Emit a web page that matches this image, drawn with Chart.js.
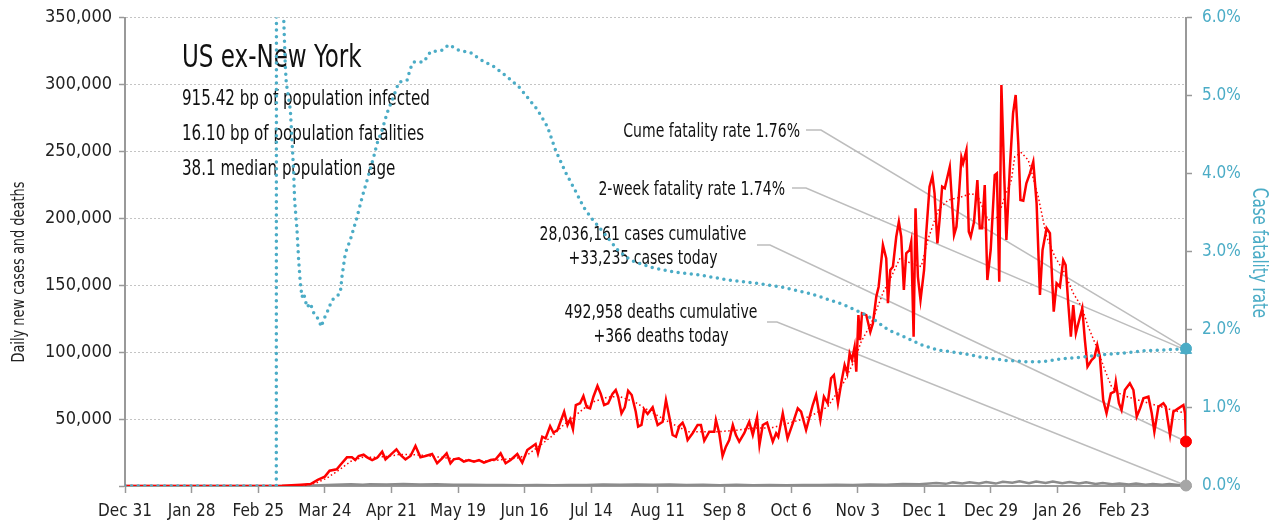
<!DOCTYPE html>
<html>
<head>
<meta charset="utf-8">
<script src="https://cdn.jsdelivr.net/npm/chart.js@4.4.1/dist/chart.umd.min.js"></script>
<style>
  html, body { margin: 0; padding: 0; background: #fff; }
  #wrap { width: 1273px; height: 527px; position: relative; }
</style>
</head>
<body>
<div id="wrap"><canvas id="usChart"></canvas></div>
<script>
// x values are days counted from Dec 31, 2019
var tickLabels = ['Dec 31', 'Jan 28', 'Feb 25', 'Mar 24', 'Apr 21', 'May 19', 'Jun 16', 'Jul 14',
    'Aug 11', 'Sep 8', 'Oct 6', 'Nov 3', 'Dec 1', 'Dec 29', 'Jan 26', 'Feb 23'];

// daily new cases
var caseDays = [0, 62, 66, 70, 74, 78, 81, 84, 86, 89,
    90.5, 93.3, 95.4, 96.8, 98.2, 100.3, 101.8, 103.9, 106, 108.1,
    109.5, 111.6, 114.1, 115.8, 117.9, 120, 122.1, 124.2, 126.3, 129.1,
    131.2, 133.3, 135.2, 136.8, 138.2, 140.3, 142.4, 144.5, 146.7, 148.8,
    150.9, 153.7, 155.8, 157.9, 160, 162.1, 164.9, 167, 169.1, 172.6,
    173.6, 175.4, 176.8, 178.7, 180.1, 181.8, 184.6, 186, 187.1, 188.3,
    189.5, 191.3, 192.7, 194.1, 195.5, 196.9, 198.6, 200, 201.4, 203.1,
    204.9, 206.3, 207.3, 208.7, 210.1, 211.5, 213, 214.7, 215.7, 217.1,
    218.2, 219.7, 221.8, 223.9, 226, 227.4, 228.8, 230.2, 231.6, 233,
    234.4, 235.4, 236.5, 238.6, 240.7, 242.1, 243.5, 245.6, 247.7, 248.4,
    249.8, 251.2, 252.6, 254, 255.5, 256.8, 258.2, 260.3, 262.4, 263.9,
    265.7, 266.7, 268.1, 269.9, 272.3, 273.7, 274.6, 276.5, 278.5, 280.7,
    282.8, 284.2, 286.3, 289.1, 290.5, 292.3, 293.8, 295.4, 296.8, 298,
    299.7, 301.3, 302.5, 303.6, 304.6, 305.6, 306.7, 307.4, 308.3, 309,
    309.8, 311.6, 313.3, 314.4, 315.8, 316.8, 318.6, 320, 320.7, 321.7,
    322.8, 324.2, 325.3, 326.3, 327.4, 328.4, 329.8, 330.5, 331.5, 332.3,
    333.3, 334.4, 335.9, 336.8, 338.2, 339.4, 340.3, 341.5, 342.4, 343.5,
    344.6, 346.7, 348.5, 349.5, 350.4, 351.6, 352.3, 353.7, 354.7, 355.5,
    356.9, 358.3, 359.3, 360.3, 361.4, 362.5, 363.9, 365.6, 366.5, 367.5,
    368.4, 369.6, 370.5, 371.9, 373.3, 374.4, 375.5, 376.4, 377.6, 378.9,
    380.4, 381.8, 383.2, 384.6, 385.7, 387.4, 388.8, 390.4, 391.6, 393,
    394.4, 395.4, 396.5, 397.6, 398.6, 399.7, 401.1, 402.4, 403.5, 404.6,
    406.3, 407.5, 408.7, 409.8, 411.2, 412.6, 414.4, 415.9, 416.5, 417.8,
    418.9, 420.3, 422.4, 423.9, 425.3, 426.7, 428.1, 430.2, 431.6, 432.7,
    434.4, 436.5, 437.5, 439.3, 440.7, 442.8, 444.9, 445.6, 446];
var caseCounts = [0, 0, 100, 500, 1000, 1500, 4500, 7000, 11400, 12500,
    15700, 21400, 21400, 19400, 22400, 23400, 21400, 19400, 21100, 25600,
    19900, 23200, 27400, 23200, 19900, 22400, 29900, 21400, 22400, 23900,
    17000, 20700, 24400, 17000, 19900, 20700, 18200, 19400, 18200, 19400,
    17400, 19400, 19900, 24400, 17000, 19400, 23900, 17400, 26900, 31400,
    24400, 36800, 35600, 44800, 39800, 41800, 55500, 45600, 49800, 42400,
    60500, 61800, 67200, 58800, 58000, 66700, 74700, 68700, 60500, 61800,
    68700, 71700, 66700, 54300, 58800, 71200, 68000, 55500, 44300, 45600,
    57300, 53800, 58800, 45600, 48000, 64200, 51800, 38100, 36800, 44800,
    47300, 43100, 34400, 39400, 45600, 45600, 33800, 40600, 40600, 49300,
    39400, 22400, 29400, 34400, 45600, 38100, 33100, 39400, 48000, 38100,
    51300, 30600, 45600, 47300, 33100, 39400, 36800, 54300, 35600, 46800,
    58000, 55500, 41800, 60500, 68000, 49300, 66700, 61800, 80500, 82900,
    61800, 79200, 90400, 84200, 99100, 94100, 104000, 85400, 127700, 109000,
    129000, 127700, 115000, 121500, 141400, 148900, 180000, 170000, 136500, 161400,
    163800, 186200, 197400, 186200, 146400, 173800, 176300, 182500, 111500, 207400,
    156300, 138900, 161400, 188800, 223600, 231600, 218600, 181300, 198700, 223600,
    222400, 238500, 187500, 193700, 213600, 245500, 241000, 251000, 190000, 186200,
    197400, 228600, 192500, 192500, 224800, 153900, 176300, 232300, 233600, 152600,
    299500, 231100, 183800, 236000, 278400, 292100, 256000, 213600, 213100, 226100,
    233600, 242300, 211200, 142700, 176300, 192500, 188800, 130200, 151400, 148900,
    168800, 165100, 136500, 111500, 135200, 114100, 124000, 132700, 109000, 89100,
    94100, 96100, 105300, 96600, 64200, 54300, 69200, 70400, 77900, 61800,
    56800, 71700, 76700, 71700, 51800, 58000, 65500, 66700, 54300, 40600,
    59200, 61800, 59200, 38100, 55500, 58000, 60500, 54300, 33235];

// 7-day average of new cases
var avgDays = [0, 70, 75, 80, 85, 90, 95, 100, 105, 110,
    115, 120, 125, 130, 135, 140, 145, 150, 155, 160,
    165, 169, 175, 180, 184, 188.7, 193, 197, 203, 208,
    214, 222, 229.5, 236.6, 243, 250, 257.5, 264.5, 271.5, 278.6,
    285, 290, 295.4, 302, 306.7, 309.5, 313.7, 319, 320.7, 326,
    330.5, 334.7, 337.5, 341.8, 346, 351.6, 355.8, 358.6, 362.8, 367,
    369.8, 372.6, 374, 376.8, 379.7, 383.9, 387.4, 390.9, 395.1, 398.6,
    402.1, 404.9, 408.4, 411.9, 414.7, 418.9, 425.9, 433, 440, 446];
var avgCounts = [0, 0, 300, 2000, 6000, 12000, 18500, 21500, 21500, 22000,
    23500, 23500, 23000, 22000, 21000, 20000, 19000, 18500, 19000, 20000,
    21000, 23000, 31000, 38000, 45000, 51800, 58000, 63000, 66500, 66700,
    63000, 54500, 47000, 40600, 40600, 40600, 41800, 43300, 43300, 46800,
    50000, 54000, 59200, 77000, 94000, 108000, 121500, 146000, 151000, 171000,
    166000, 164000, 184000, 206000, 213600, 216000, 218600, 216000, 198700, 201000,
    216000, 228600, 246000, 249000, 243500, 216000, 186200, 171300, 158900, 144000,
    134000, 119000, 104000, 86700, 74200, 68000, 64200, 60500, 56800, 54300];

// daily deaths
var deathDays = [0, 65, 75, 82, 88, 95, 100, 103, 110, 117,
    124, 131, 138, 145, 152, 159, 166, 173, 180, 187,
    194, 201, 208, 215, 222, 229, 236, 243, 250, 257,
    264, 271, 278, 285, 292, 299, 306, 313, 320, 327,
    334, 341, 345, 348, 352, 355, 359, 362, 366, 369,
    373, 376, 380, 383, 387, 390, 394, 397, 401, 404,
    408, 411, 415, 418, 422, 425, 429, 432, 436, 439,
    443, 446];
var deathCounts = [0, 0, 100, 500, 900, 1300, 1000, 1400, 1200, 1500,
    1100, 1300, 900, 1000, 700, 800, 600, 700, 500, 800,
    700, 1100, 900, 1200, 900, 1100, 800, 900, 600, 900,
    600, 800, 600, 800, 700, 900, 800, 1100, 1000, 1500,
    1300, 2200, 1600, 2700, 1800, 2800, 1900, 2900, 1800, 3200,
    2400, 3500, 2000, 3400, 2200, 3300, 2100, 3000, 1800, 2700,
    1500, 2300, 1300, 1900, 1100, 1800, 1000, 1500, 900, 1400,
    800, 366];

// cumulative case fatality rate, percent
var cfrDays = [0, 63.6, 64, 65.5, 66.7, 67.4, 67.8, 69.5, 70.2, 70.9,
    71.3, 72.3, 73, 73.7, 74.4, 75.1, 76.5, 77.9, 79.3, 81.4,
    82.5, 83.5, 84.9, 87, 90.5, 91.2, 92.6, 94.7, 97.6, 99.7,
    101.8, 104.5, 106, 108.1, 110.2, 112.3, 115.1, 118.6, 120, 121.4,
    125.6, 128.4, 133.3, 136.1, 140.3, 145.3, 149.5, 155.1, 160.7, 165.6,
    169.1, 173.3, 177.6, 181, 185.3, 189.5, 192.8, 196.6, 201.3, 207.2,
    212.6, 221.1, 230.7, 242.1, 253.5, 264.4, 275.8, 281.3, 287.2, 292.6,
    302.3, 309.5, 314.9, 320.8, 327.6, 334.7, 341.9, 351.6, 360, 369.7,
    379.8, 385.3, 393.7, 402.1, 410.5, 418.9, 427.4, 435.8, 446];
var cfrRates = [0, 0, 40, 12, 6.0, 5.37, 5.16, 4.82, 4.43, 4.01,
    3.66, 3.28, 2.89, 2.60, 2.42, 2.47, 2.29, 2.34, 2.22, 2.13,
    2.04, 2.13, 2.22, 2.38, 2.47, 2.68, 2.98, 3.15, 3.45, 3.70,
    3.92, 4.21, 4.39, 4.56, 4.78, 4.94, 5.17, 5.20, 5.35, 5.43,
    5.43, 5.56, 5.58, 5.65, 5.58, 5.55, 5.46, 5.37, 5.24, 5.11,
    4.98, 4.82, 4.60, 4.30, 4.01, 3.77, 3.57, 3.41, 3.24, 3.02,
    2.89, 2.80, 2.74, 2.70, 2.64, 2.60, 2.55, 2.51, 2.47, 2.42,
    2.32, 2.22, 2.13, 2.00, 1.91, 1.81, 1.74, 1.70, 1.65, 1.61,
    1.59, 1.59, 1.63, 1.65, 1.68, 1.70, 1.73, 1.74, 1.76];

var regionName = 'US ex-New York';
var infectedBp = '915.42', fatalBp = '16.10', medianAge = '38.1';
var lastDay = 446;
var totalCases = 28036161, casesToday = 33235;
var totalDeaths = 492958, deathsToday = 366;
var cumeRate = 1.76, twoWeekRate = 1.74;

var FONT = "'DejaVu Sans Condensed', 'DejaVu Sans', sans-serif";
var SQUEEZE = 0.8;   // the original uses a narrow face
var TEAL = '#4bacc6';
var RED = '#ff0000';

function toPoints(xs, ys) {
    return xs.map(function (x, i) { return { x: x, y: ys[i] }; });
}
function fmt(n) {
    return n.toLocaleString('en-US');
}
function narrowText(ctx, text, x, y, align) {
    ctx.save();
    ctx.translate(x, y);
    ctx.scale(SQUEEZE, 1);
    ctx.textAlign = align;
    ctx.fillText(text, 0, 0);
    ctx.restore();
}
function noEdgePadding(scale) {
    scale.paddingTop = 0;
    scale.paddingBottom = 0;
    scale.paddingLeft = 0;
    scale.paddingRight = 0;
}

var notesPlugin = {
    id: 'notes',
    beforeDatasetsDraw: function (chart) {
        var ctx = chart.ctx;
        var xs = chart.scales.x, ys = chart.scales.y, ys2 = chart.scales.y2;
        ctx.save();

        // leader lines from the labels to the last values
        var ex = xs.getPixelForValue(lastDay);
        ctx.strokeStyle = '#bdbdbd';
        ctx.lineWidth = 1.5;
        function leader(x0, y0, x1, px, py) {
            ctx.beginPath();
            ctx.moveTo(x0, y0);
            ctx.lineTo(x1, y0);
            ctx.lineTo(px, py);
            ctx.stroke();
        }
        leader(806, 130, 821, ex, ys2.getPixelForValue(cumeRate));
        leader(792, 188, 806, ex, ys2.getPixelForValue(twoWeekRate));
        leader(757, 245, 770, ex, ys.getPixelForValue(casesToday));
        leader(767, 322, 777, ex, ys.getPixelForValue(deathsToday));

        // headline block
        ctx.fillStyle = '#111';
        ctx.textBaseline = 'alphabetic';
        ctx.font = '32px ' + FONT;
        narrowText(ctx, regionName, 182, 67, 'left');
        ctx.font = '21px ' + FONT;
        narrowText(ctx, infectedBp + ' bp of population infected', 182, 105, 'left');
        narrowText(ctx, fatalBp + ' bp of population fatalities', 182, 140, 'left');
        narrowText(ctx, medianAge + ' median population age', 182, 175, 'left');

        // annotations
        ctx.font = '19.5px ' + FONT;
        narrowText(ctx, 'Cume fatality rate ' + cumeRate.toFixed(2) + '%', 800, 137, 'right');
        narrowText(ctx, '2-week fatality rate ' + twoWeekRate.toFixed(2) + '%', 785, 195, 'right');
        narrowText(ctx, fmt(totalCases) + ' cases cumulative', 643, 240, 'center');
        narrowText(ctx, '+' + fmt(casesToday) + ' cases today', 643, 264, 'center');
        narrowText(ctx, fmt(totalDeaths) + ' deaths cumulative', 661, 318, 'center');
        narrowText(ctx, '+' + fmt(deathsToday) + ' deaths today', 661, 342, 'center');

        // axis titles
        ctx.textBaseline = 'middle';
        ctx.save();
        ctx.translate(19, 272);
        ctx.rotate(-Math.PI / 2);
        ctx.fillStyle = '#222';
        ctx.font = '18px ' + FONT;
        narrowText(ctx, 'Daily new cases and deaths', 0, 0, 'center');
        ctx.restore();
        ctx.save();
        ctx.translate(1258, 253);
        ctx.rotate(Math.PI / 2);
        ctx.fillStyle = TEAL;
        ctx.font = '21px ' + FONT;
        narrowText(ctx, 'Case fatality rate', 0, 0, 'center');
        ctx.restore();

        ctx.restore();
    }
};

document.addEventListener('DOMContentLoaded', function () {
    var el = document.getElementById('usChart');
    var ctx = el.getContext('2d');

    new Chart(ctx, {
        type: 'line',
        data: {
            datasets: [{
                label: 'Case fatality rate',
                data: toPoints(cfrDays, cfrRates),
                yAxisID: 'y2',
                borderColor: TEAL,
                borderWidth: 3.5,
                borderDash: [0, 6.6],
                borderCapStyle: 'round',
                pointRadius: 0,
                order: 1
            }, {
                label: '7-day average',
                data: toPoints(avgDays, avgCounts),
                yAxisID: 'y',
                borderColor: RED,
                borderWidth: 1.5,
                borderDash: [1.5, 2.5],
                pointRadius: 0,
                order: 2
            }, {
                label: 'Daily new cases',
                data: toPoints(caseDays, caseCounts),
                yAxisID: 'y',
                borderColor: RED,
                borderWidth: 2.5,
                pointRadius: 0,
                order: 3
            }, {
                label: 'Daily deaths',
                data: toPoints(deathDays, deathCounts),
                yAxisID: 'y',
                borderColor: '#8c8c8c',
                borderWidth: 2.5,
                pointRadius: 0,
                order: 4
            }, {
                label: 'Cases today',
                data: [{ x: lastDay, y: casesToday }],
                yAxisID: 'y',
                showLine: false,
                pointRadius: 5.5,
                pointBackgroundColor: RED,
                pointBorderColor: RED,
                clip: false,
                order: 0
            }, {
                label: 'Deaths today',
                data: [{ x: lastDay, y: deathsToday }],
                yAxisID: 'y',
                showLine: false,
                pointRadius: 5.5,
                pointBackgroundColor: '#a6a6a6',
                pointBorderColor: '#a6a6a6',
                clip: false,
                order: 0
            }, {
                label: 'Cume fatality rate',
                data: [{ x: lastDay, y: cumeRate }],
                yAxisID: 'y2',
                showLine: false,
                pointRadius: 5.5,
                pointBackgroundColor: TEAL,
                pointBorderColor: TEAL,
                clip: false,
                order: 0
            }, {
                label: '2-week fatality rate',
                data: [{ x: lastDay, y: twoWeekRate }],
                yAxisID: 'y2',
                showLine: false,
                pointStyle: 'triangle',
                pointRadius: 6.5,
                pointBackgroundColor: TEAL,
                pointBorderColor: TEAL,
                clip: false,
                order: 0
            }]
        },
        options: {
            responsive: true,
            maintainAspectRatio: false,
            animation: false,
            events: [],
            layout: { padding: { top: 17.5, left: 0, right: 0, bottom: 0 } },
            plugins: {
                legend: { display: false },
                tooltip: { enabled: false }
            },
            scales: {
                x: {
                    type: 'linear',
                    min: 0,
                    max: lastDay,
                    afterFit: function (scale) {
                        scale.height = 41;
                        noEdgePadding(scale);
                    },
                    ticks: {
                        stepSize: 28,
                        includeBounds: false,
                        autoSkip: false,
                        maxRotation: 0,
                        padding: 8,
                        color: '#222',
                        font: { family: FONT, size: 17 },
                        callback: function (value) {
                            return value % 28 === 0 ? (tickLabels[value / 28] || '') : '';
                        }
                    },
                    grid: {
                        drawOnChartArea: false,
                        tickLength: 7,
                        tickWidth: 1.5,
                        tickColor: '#999'
                    },
                    border: { color: '#999', width: 2 }
                },
                y: {
                    position: 'left',
                    min: 0,
                    max: 350000,
                    afterFit: function (scale) {
                        scale.width = 125;
                        noEdgePadding(scale);
                    },
                    ticks: {
                        stepSize: 50000,
                        padding: 7,
                        color: '#222',
                        font: { family: FONT, size: 18 },
                        callback: function (value) {
                            return value === 0 ? '' : fmt(value);
                        }
                    },
                    grid: {
                        color: '#c4c4c4',
                        lineWidth: 1,
                        tickLength: 6,
                        tickWidth: 1.5,
                        tickColor: '#999'
                    },
                    border: { color: '#999', width: 2, dash: [2, 2] }
                },
                y2: {
                    position: 'right',
                    min: 0,
                    max: 6,
                    afterFit: function (scale) {
                        scale.width = 87;
                        noEdgePadding(scale);
                    },
                    ticks: {
                        stepSize: 1,
                        padding: 10,
                        color: TEAL,
                        font: { family: FONT, size: 17 },
                        callback: function (value) { return value.toFixed(1) + '%'; }
                    },
                    grid: {
                        drawOnChartArea: false,
                        tickLength: 6,
                        tickWidth: 1.5,
                        tickColor: '#999'
                    },
                    border: { color: '#999', width: 2 }
                }
            }
        },
        plugins: [notesPlugin]
    });
});
</script>
</body>
</html>
